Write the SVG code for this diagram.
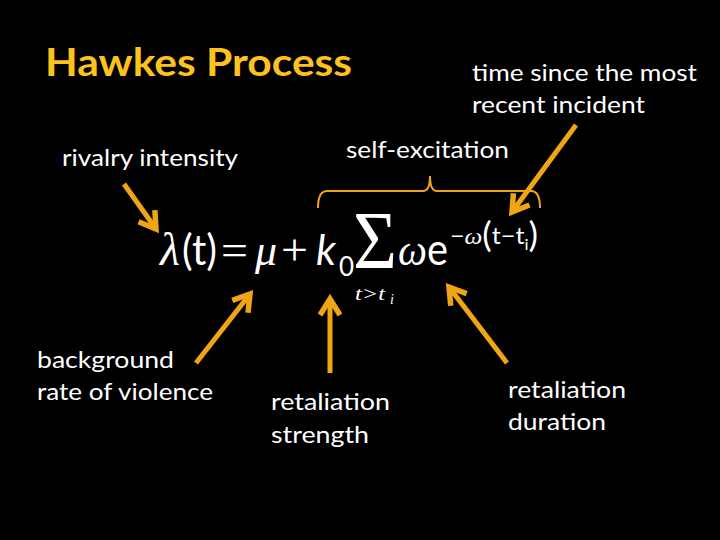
<svg xmlns="http://www.w3.org/2000/svg" width="720" height="540" viewBox="0 0 720 540">
  <defs>
    <style>
      .lbl { font-family: Lato, "Open Sans", "Liberation Sans", sans-serif; font-size: 24px; fill: #ffffff; }
      .title { font-family: Lato, "Open Sans", "Liberation Sans", sans-serif; font-size: 39px; font-weight: bold; fill: #FDC21C; }
      .arrow { stroke: #EFA515; stroke-width: 5; fill: none; marker-end: url(#head); }
      .serif { font-family: "Liberation Serif", "DejaVu Serif", serif; fill: #ffffff; }
      .sans { font-family: Lato, "Open Sans", "Liberation Sans", sans-serif; fill: #ffffff; }
    </style>
    <marker id="head" markerUnits="userSpaceOnUse" markerWidth="40" markerHeight="40" viewBox="-24 -20 40 40" refX="0" refY="0" orient="auto">
      <path d="M -16,-10 L 0,0 L -16,10" fill="none" stroke="#EFA515" stroke-width="5.5" stroke-linejoin="miter"/>
    </marker>
  </defs>
  <rect x="0" y="0" width="720" height="540" fill="#000000"/>

  <g id="title">
    <text class="title" x="45" y="76" textLength="307" lengthAdjust="spacingAndGlyphs">Hawkes Process</text>
  </g>

  <g id="formula">
    <text class="serif" x="160" y="265" font-size="46" font-style="italic">λ</text>
    <text class="sans" x="182" y="265" font-size="42" textLength="35" lengthAdjust="spacingAndGlyphs">(t)</text>
    <text class="serif" x="221" y="265" font-size="44" textLength="27" lengthAdjust="spacingAndGlyphs">=</text>
    <text class="serif" x="255" y="265" font-size="44" font-style="italic">μ</text>
    <text class="serif" x="281" y="265" font-size="44" textLength="27" lengthAdjust="spacingAndGlyphs">+</text>
    <text class="sans" x="316" y="265" font-size="42" font-style="italic">k</text>
    <text class="sans" x="339" y="276" font-size="26">0</text>
    <text class="serif" x="353" y="268" font-size="82" textLength="44" lengthAdjust="spacingAndGlyphs">Σ</text>
    <text class="serif" x="398" y="265" font-size="44" font-style="italic" textLength="29" lengthAdjust="spacingAndGlyphs">ω</text>
    <text class="sans" x="427" y="265" font-size="44" textLength="21" lengthAdjust="spacingAndGlyphs">e</text>
    <text class="sans" x="450" y="244" font-size="24" textLength="88" lengthAdjust="spacingAndGlyphs">−<tspan class="serif" font-style="italic">ω</tspan><tspan font-size="34" dy="3">(</tspan><tspan dy="-3">t−t</tspan><tspan font-size="16" dy="6">i</tspan><tspan font-size="34" dy="-3">)</tspan></text>
    <text class="serif" x="355" y="300" font-size="19" font-style="italic" textLength="30" lengthAdjust="spacingAndGlyphs">t&gt;t</text>
    <text class="serif" x="390" y="304" font-size="14" font-style="italic">i</text>
  </g>

  <g id="connectors">
    <path d="M318,208 Q318,191 327,191 L423,191 Q430,191 430,176 Q430,191 437,191 L531,191 Q540,191 540,208" fill="none" stroke="#EFA515" stroke-width="2"/>
    <line class="arrow" x1="124" y1="184" x2="156" y2="229"/>
    <line class="arrow" x1="196" y1="363" x2="250" y2="294"/>
    <line class="arrow" x1="330" y1="373" x2="330" y2="299"/>
    <line class="arrow" x1="507" y1="363" x2="449" y2="287"/>
    <line class="arrow" x1="576" y1="125" x2="512" y2="212"/>
  </g>

  <g id="label-time">
    <text class="lbl" x="472" y="81" textLength="225" lengthAdjust="spacingAndGlyphs">time since the most</text>
    <text class="lbl" x="472" y="113" textLength="173" lengthAdjust="spacingAndGlyphs">recent incident</text>
  </g>
  <g id="label-rivalry">
    <text class="lbl" x="62" y="166" textLength="176" lengthAdjust="spacingAndGlyphs">rivalry intensity</text>
  </g>
  <g id="label-self">
    <text class="lbl" x="346" y="158" textLength="163" lengthAdjust="spacingAndGlyphs">self-excitation</text>
  </g>
  <g id="label-background">
    <text class="lbl" x="37" y="368" textLength="137" lengthAdjust="spacingAndGlyphs">background</text>
    <text class="lbl" x="37" y="400" textLength="176" lengthAdjust="spacingAndGlyphs">rate of violence</text>
  </g>
  <g id="label-strength">
    <text class="lbl" x="271" y="410" textLength="119" lengthAdjust="spacingAndGlyphs">retaliation</text>
    <text class="lbl" x="271" y="443" textLength="98" lengthAdjust="spacingAndGlyphs">strength</text>
  </g>
  <g id="label-duration">
    <text class="lbl" x="508" y="398" textLength="118" lengthAdjust="spacingAndGlyphs">retaliation</text>
    <text class="lbl" x="508" y="430" textLength="98" lengthAdjust="spacingAndGlyphs">duration</text>
  </g>
</svg>
